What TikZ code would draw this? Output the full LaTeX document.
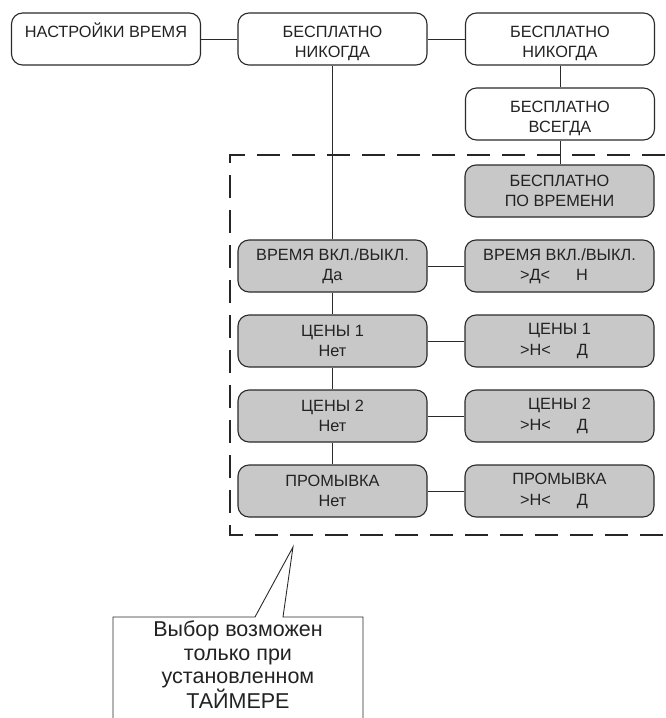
\documentclass[tikz,border=0pt]{standalone}
\usepackage{fontspec}
\setmainfont{Liberation Sans}
\definecolor{linecol}{HTML}{2A2A2A}
\definecolor{boxgray}{HTML}{C8C8C8}
\definecolor{txtcol}{HTML}{222222}
\newcommand{\lowr}{\rule{0pt}{20pt}}
\newcommand{\optline}[2]{\hspace*{-11pt}\makebox[68pt]{#1\hfill #2}}
\tikzset{
  menubox/.style={draw=linecol, line width=1.1pt, rounded corners=11pt,
    minimum width=189pt, minimum height=52pt, inner sep=0pt, align=center,
    text=txtcol, font=\fontsize{16.3}{20.5}\selectfont},
  wbox/.style={menubox, fill=white},
  gbox/.style={menubox, fill=boxgray},
  conn/.style={draw=linecol, line width=0.9pt},
  dashframe/.style={draw=black!85, line width=2.6pt, dash pattern=on 23pt off 12pt},
  calloutline/.style={draw=linecol, line width=0.9pt},
}
\begin{document}
\begin{tikzpicture}[x=1pt,y=-1pt]
\useasboundingbox (0,0) rectangle (665,718);
% dashed frame (open to the right)
\draw[dashframe] (665,155) -- (230,155) -- (230,535) -- (665,535);
% top row
\node[wbox] (b1) at (106,39) {\lowr НАСТРОЙКИ ВРЕМЯ\\[2pt]~};
\node[wbox] (b2) at (332.5,39) {\lowr БЕСПЛАТНО\\НИКОГДА};
\node[wbox] (b3) at (560,39) {\lowr БЕСПЛАТНО\\НИКОГДА};
\node[wbox] (b4) at (560,114) {\lowr БЕСПЛАТНО\\ВСЕГДА};
\node[gbox] (b5) at (559.5,191) {БЕСПЛАТНО\\ПО ВРЕМЕНИ};
% left column
\node[gbox] (b6) at (332.5,266) {ВРЕМЯ ВКЛ./ВЫКЛ.\\Да};
\node[gbox] (b8) at (332.5,341) {ЦЕНЫ 1\\Нет};
\node[gbox] (b10) at (332.5,416) {ЦЕНЫ 2\\Нет};
\node[gbox] (b12) at (332.5,491) {ПРОМЫВКА\\Нет};
% right column
\node[gbox] (b7) at (559.5,266) {ВРЕМЯ ВКЛ./ВЫКЛ.\\\optline{>Д<}{Н}};
\node[gbox] (b9) at (559.5,341) {ЦЕНЫ 1\\\optline{>Н<}{Д}};
\node[gbox] (b11) at (559.5,416) {ЦЕНЫ 2\\\optline{>Н<}{Д}};
\node[gbox] (b13) at (559.5,491) {ПРОМЫВКА\\\optline{>Н<}{Д}};
% connectors
\draw[conn] (b1.east) -- (b2.west);
\draw[conn] (b2.east) -- (b3.west);
\draw[conn] (b3.south) -- (b4.north);
\draw[conn] (b4.south) -- (b4.south |- b5.north);
\draw[conn] (b2.south) -- (b6.north);
\draw[conn] (b6.south) -- (b8.north);
\draw[conn] (b8.south) -- (b10.north);
\draw[conn] (b10.south) -- (b12.north);
\draw[conn] (b6.east) -- (b7.west);
\draw[conn] (b8.east) -- (b9.west);
\draw[conn] (b10.east) -- (b11.west);
\draw[conn] (b12.east) -- (b13.west);
% callout
\coordinate (tip) at (293,547);
\coordinate (cl) at (113,718);
\coordinate (cr) at (363,718);
\draw[calloutline, fill=white] (cl) -- (113,617) -- (255,617) -- (tip) -- (283,617) -- (363,617) -- (cr);
\node[anchor=north, align=center, inner sep=0pt, text=txtcol,
  font=\fontsize{21.5}{23.4}\selectfont] (note) at (238,621)
  {Выбор возможен\\только при\\установленном\\ТАЙМЕРЕ};
\end{tikzpicture}
\end{document}
